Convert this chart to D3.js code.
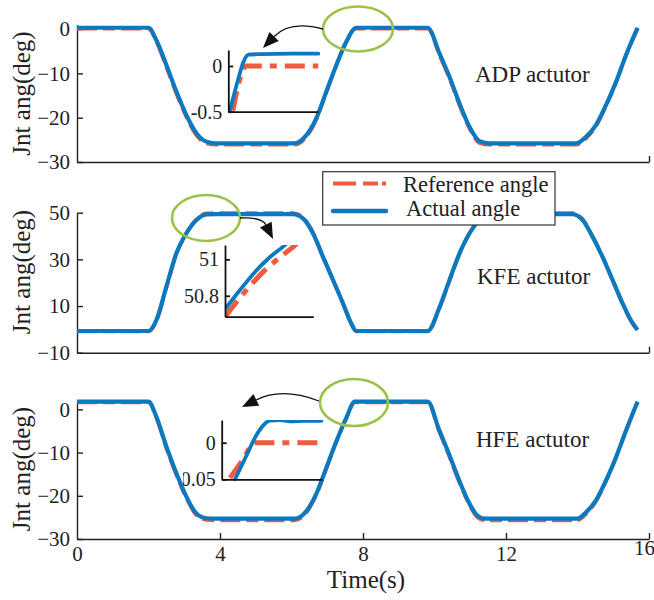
<!DOCTYPE html>
<html>
<head>
<meta charset="utf-8">
<script src="https://cdn.jsdelivr.net/npm/d3@7"></script>
<style>
  html, body { margin: 0; padding: 0; background: #fff; }
  svg { display: block; font-family: "Liberation Serif", "Times New Roman", serif; }
  text { fill: #222; }
</style>
</head>
<body>
<svg id="chart" width="654" height="600"></svg>
<script>
// ---------------- DATA ----------------
const xTicks = [0, 4, 8, 12, 16];
const ticksADP = [0, -10, -20, -30];
const ticksKFE = [50, 30, 10, -10];
const ticksHFE = [0, -10, -20, -30];
const panelNames = ["ADP actutor", "KFE actutor", "HFE actutor"];
const legendLabels = ["Reference angle", "Actual angle"];

// ADP actuator
const timeADP = [0, 2, 2.22, 2.5, 2.78, 3.06, 3.34, 3.62, 3.9, 6.09, 6.41, 6.69, 6.97, 7.25, 7.53, 7.81, 9.81, 10.14, 10.42, 10.7, 10.98, 11.26, 11.54, 13.96, 14.24, 14.52, 14.8, 15.08, 15.36, 15.68];
const actADP = [0.3, 0.3, -2.5, -8.1, -14.1, -19.4, -23.5, -25.4, -25.8, -25.8, -24.0, -20.2, -14.2, -8.2, -2.9, 0.3, 0.3, -5.5, -10.8, -16.8, -22.1, -25.3, -25.8, -25.8, -24.3, -21.6, -17.1, -11.9, -5.8, 0.3];
const refADP = [0.1, 0.1, -2.9, -8.6, -14.6, -19.9, -24.0, -25.8, -26.1, -26.1, -24.4, -20.5, -14.4, -8.3, -2.9, 0.1, 0.1, -5.9, -11.2, -17.2, -22.5, -25.7, -26.1, -26.1, -24.7, -21.9, -17.3, -12.0, -5.9, 0.1];

// KFE actuator
const timeKFE = [0, 2, 2.22, 2.5, 2.78, 3.06, 3.34, 3.62, 3.9, 6.04, 6.32, 6.6, 6.88, 7.16, 7.44, 7.67, 7.81, 9.81, 10.14, 10.42, 10.7, 10.98, 11.26, 11.54, 13.86, 14.14, 14.42, 14.7, 14.98, 15.26, 15.49, 15.68];
const actKFE = [-0.7, -0.7, 4.0, 18.3, 32.6, 41.2, 46.9, 49.3, 49.4, 49.4, 47.6, 41.2, 31.1, 21.2, 11.2, 2.6, -0.7, -0.7, 9.5, 21.2, 32.6, 41.2, 46.9, 49.3, 49.4, 46.9, 39.7, 31.1, 21.2, 11.2, 4.0, -0.3];
const refKFE = [-0.9, -0.9, 3.5, 17.8, 32.2, 41.2, 47.2, 49.7, 49.9, 49.9, 48.0, 41.6, 31.3, 21.2, 11.0, 2.2, -0.9, -0.9, 9.0, 20.8, 32.3, 41.2, 47.2, 49.7, 49.9, 47.3, 40.0, 31.3, 21.2, 11.0, 3.6, -0.6];

// HFE actuator
const timeHFE = [0, 2, 2.22, 2.5, 2.78, 3.06, 3.34, 3.62, 3.9, 6.09, 6.41, 6.69, 6.97, 7.25, 7.53, 7.77, 9.81, 10.12, 10.4, 10.68, 10.96, 11.2, 11.4, 14.0, 14.24, 14.52, 14.8, 15.08, 15.36, 15.68];
const actHFE = [1.8, 1.8, -1.7, -8.6, -14.8, -20.2, -24.1, -25.2, -25.3, -25.3, -23.6, -19.6, -13.6, -7.5, -2.0, 1.8, 1.8, -4.5, -10.2, -16.2, -21.5, -24.6, -25.3, -25.3, -23.8, -21.0, -16.4, -11.0, -4.8, 1.8];
const refHFE = [1.6, 1.6, -2.0, -9.0, -15.2, -20.6, -24.5, -25.6, -25.7, -25.7, -24.0, -19.9, -13.8, -7.6, -2.1, 1.6, 1.6, -4.9, -10.6, -16.6, -21.9, -25.0, -25.7, -25.7, -24.2, -21.3, -16.6, -11.1, -4.9, 1.6];

// Inset (zoom) data
const insetADPTicks = [0, -0.5];
const insetADPActT = [7.745, 7.76, 7.775, 7.79, 7.807, 7.85, 7.95, 8.04];
const insetADPActV = [-0.49, -0.3, -0.12, 0.04, 0.125, 0.13, 0.135, 0.135];
const insetADPRefT = [7.755, 7.8, 8.04];
const insetADPRefV = [-0.49, 0.0, 0.0];

const insetKFETicks = [51, 50.8];
const insetKFEActT = [3.3, 3.334, 3.368, 3.402, 3.436, 3.447];
const insetKFEActV = [50.726, 50.832, 50.931, 51.013, 51.079, 51.106];
const insetKFERefT = [3.3, 3.345, 3.391, 3.425, 3.459, 3.47];
const insetKFERefV = [50.685, 50.821, 50.942, 51.013, 51.079, 51.106];

const insetHFETicks = [0, -0.05];
const insetHFEActT = [7.64, 7.672, 7.704, 7.723, 7.744, 7.775, 7.804, 7.848, 7.898];
const insetHFEActV = [-0.05, -0.0195, 0.0105, 0.023, 0.030, 0.031, 0.029, 0.030, 0.030];
const insetHFERefT = [7.625, 7.661, 7.699, 7.893];
const insetHFERefV = [-0.048, -0.025, 0.0, 0.0];

// ---------------- STYLE / LAYOUT ----------------
const BLUE = "#0b78bf";
const RED = "#ef5b3e";
const GREEN = "#9cc24a";
const INK = "#222";

const svg = d3.select("#chart");
const x = d3.scaleLinear().domain([0, 16]).range([77, 649]);

const panels = [
  { t: timeADP, act: actADP, ref: refADP, ticks: ticksADP, domain: [-30, 1], range: [162, 162 - 31 * 4.43], labelY: 93.5, name: panelNames[0], nameX: 475, nameY: 82 },
  { t: timeKFE, act: actKFE, ref: refKFE, ticks: ticksKFE, domain: [-10, 50], range: [352.7, 212.7], labelY: 272, name: panelNames[1], nameX: 477, nameY: 284 },
  { t: timeHFE, act: actHFE, ref: refHFE, ticks: ticksHFE, domain: [-30, 2], range: [539, 539 - 32 * 4.32], labelY: 469, name: panelNames[2], nameX: 476, nameY: 447 }
];

panels.forEach((p, i) => {
  const y = d3.scaleLinear().domain(p.domain).range(p.range);
  const g = svg.append("g");

  // y axis
  const ya = g.append("g").attr("transform", `translate(${x(0)},0)`)
    .call(d3.axisLeft(y).tickValues(p.ticks).tickSizeInner(-6).tickSizeOuter(0).tickPadding(7).tickFormat(d3.format("d")));
  ya.selectAll("path,line").attr("stroke", INK).attr("stroke-width", 1.4);
  ya.selectAll("text").attr("font-size", 21).attr("font-family", "Liberation Serif, serif").attr("fill", INK);

  // x axis
  const last = i === 2;
  const xa = g.append("g").attr("transform", `translate(0,${p.range[0]})`)
    .call(d3.axisBottom(x).tickValues(last ? xTicks : [16]).tickSizeInner(-6).tickSizeOuter(0).tickPadding(7)
      .tickFormat(last ? d3.format("d") : () => ""));
  xa.selectAll("path,line").attr("stroke", INK).attr("stroke-width", 1.4);
  xa.selectAll("text").attr("font-size", 21).attr("font-family", "Liberation Serif, serif").attr("fill", INK);
  if (last) {
    xa.selectAll(".tick").filter(d => d === 0).select("line").remove();
    xa.selectAll(".tick").filter(d => d === 16).select("text").attr("x", -5).attr("y", 1);
  }

  // lines
  const pts = (tt, vv) => tt.map((d, k) => [d, vv[k]]);
  const line = d3.line().x(d => x(d[0])).y(d => y(d[1])).curve(d3.curveMonotoneX);
  g.append("path").attr("d", line(pts(p.t, p.ref))).attr("fill", "none")
    .attr("stroke", RED).attr("stroke-width", 3.6).attr("stroke-dasharray", "20,6,12,6");
  g.append("path").attr("d", line(pts(p.t, p.act))).attr("fill", "none")
    .attr("stroke", BLUE).attr("stroke-width", 4.2).attr("stroke-linejoin", "round");

  // y label
  svg.append("text").attr("transform", `translate(30,${p.labelY}) rotate(-90)`)
    .attr("text-anchor", "middle").attr("font-size", 25).text("Jnt ang(deg)");

  // panel name
  svg.append("text").attr("x", p.nameX).attr("y", p.nameY).attr("font-size", 23).text(p.name);
});

// x label
svg.append("text").attr("x", 366).attr("y", 588).attr("text-anchor", "middle").attr("font-size", 25).text("Time(s)");

// ---------------- INSETS ----------------
const insets = [
  { id: "i1", x0: 228.3, x1: 318.3, yTop: 50, yBot: 111.7, tDom: [7.74, 8.04], vDom: [-0.5, 0.1749], ticks: insetADPTicks, fmt: d => d === 0 ? "0" : "-0.5",
    act: [insetADPActT, insetADPActV], ref: [insetADPRefT, insetADPRefV], curve: d3.curveMonotoneX, clipX: 0 },
  { id: "i2", x0: 225, x1: 313.3, yTop: 245, yBot: 316.7, tDom: [3.3, 3.5], vDom: [50.685, 51.079], ticks: insetKFETicks, fmt: d => d === 51 ? "51" : "50.8",
    act: [insetKFEActT, insetKFEActV], ref: [insetKFERefT, insetKFERefV], curve: d3.curveMonotoneX, clipX: 0 },
  { id: "i3", x0: 221.7, x1: 322, yTop: 420, yBot: 479.3, tDom: [7.6, 7.9], vDom: [-0.05, 0.031], ticks: insetHFETicks, fmt: d => d === 0 ? "0" : "-0.05",
    act: [insetHFEActT, insetHFEActV], ref: [insetHFERefT, insetHFERefV], curve: d3.curveMonotoneX, clipX: 183 }
];

const defs = svg.append("defs");
insets.forEach(ins => {
  const xs = d3.scaleLinear().domain(ins.tDom).range([ins.x0, ins.x1]);
  const ys = d3.scaleLinear().domain(ins.vDom).range([ins.yBot, ins.yTop]);
  defs.append("clipPath").attr("id", "clip-" + ins.id).append("rect")
    .attr("x", ins.x0).attr("y", ins.yTop).attr("width", ins.x1 - ins.x0 + 4).attr("height", ins.yBot - ins.yTop + 2);
  const g = svg.append("g");
  const line = d3.line().x(d => xs(d[0])).y(d => ys(d[1])).curve(ins.curve);
  const pts = (a) => a[0].map((d, k) => [d, a[1][k]]);
  const lg = g.append("g").attr("clip-path", `url(#clip-${ins.id})`);
  lg.append("path").attr("d", line(pts(ins.ref))).attr("fill", "none")
    .attr("stroke", RED).attr("stroke-width", 5).attr("stroke-dasharray", "20,8,7,8");
  lg.append("path").attr("d", line(pts(ins.act))).attr("fill", "none")
    .attr("stroke", BLUE).attr("stroke-width", 3.8).attr("stroke-linejoin", "round").attr("stroke-linecap", "round");

  const ax = g.append("g").attr("transform", `translate(${ins.x0},0)`)
    .call(d3.axisLeft(ys).tickValues(ins.ticks).tickSizeInner(-5).tickSizeOuter(0).tickPadding(6).tickFormat(ins.fmt));
  ax.selectAll("path,line").attr("stroke", "#111").attr("stroke-width", 1.8);
  ax.selectAll("text").attr("font-size", 20).attr("font-family", "Liberation Serif, serif").attr("fill", INK);
  if (ins.clipX) {
    defs.append("clipPath").attr("id", "lab-" + ins.id).append("rect")
      .attr("x", ins.clipX - ins.x0).attr("y", 0).attr("width", 200).attr("height", 600);
    ax.attr("clip-path", `url(#lab-${ins.id})`);
  }
  g.append("g").attr("transform", `translate(0,${ins.yBot})`)
    .call(d3.axisBottom(xs).tickValues([]).tickSizeOuter(0))
    .selectAll("path").attr("stroke", "#111").attr("stroke-width", 1.8);
});

// ---------------- ELLIPSES & ARROWS ----------------
const ellipses = [[358, 29, 35, 22.5], [206, 218, 34, 23], [354, 402.5, 34, 23.5]];
ellipses.forEach(e => {
  svg.append("ellipse").attr("cx", e[0]).attr("cy", e[1]).attr("rx", e[2]).attr("ry", e[3])
    .attr("fill", "none").attr("stroke", GREEN).attr("stroke-width", 2.6);
});

function arrow(p0, c, tip, len, w) {
  const dx = tip[0] - c[0], dy = tip[1] - c[1];
  const L = Math.hypot(dx, dy), ux = dx / L, uy = dy / L;
  const base = [tip[0] - ux * len, tip[1] - uy * len];
  const pth = d3.path();
  pth.moveTo(p0[0], p0[1]);
  pth.quadraticCurveTo(c[0], c[1], base[0], base[1]);
  svg.append("path").attr("d", pth.toString()).attr("fill", "none").attr("stroke", "#111").attr("stroke-width", 1.3);
  const px = -uy, py = ux;
  const tri = d3.path();
  tri.moveTo(tip[0], tip[1]);
  tri.lineTo(base[0] + px * w / 2, base[1] + py * w / 2);
  tri.lineTo(base[0] - px * w / 2, base[1] - py * w / 2);
  tri.closePath();
  svg.append("path").attr("d", tri.toString()).attr("fill", "#111");
}
arrow([323, 29], [290, 20], [263, 48], 16, 13);
arrow([240, 218], [262, 217], [273, 239], 16, 13);
arrow([319, 401], [282, 387], [242, 407], 16, 13);

// ---------------- LEGEND ----------------
const leg = svg.append("g");
leg.append("rect").attr("x", 322.7).attr("y", 171.7).attr("width", 232.3).attr("height", 53.3)
  .attr("fill", "#fff").attr("stroke", "#333").attr("stroke-width", 1.2);
leg.append("line").attr("x1", 333).attr("x2", 386).attr("y1", 183.5).attr("y2", 183.5)
  .attr("stroke", RED).attr("stroke-width", 4).attr("stroke-dasharray", "23,7,15,4,4");
leg.append("line").attr("x1", 333).attr("x2", 386).attr("y1", 211).attr("y2", 211)
  .attr("stroke", BLUE).attr("stroke-width", 4.5).attr("stroke-linecap", "round");
leg.append("text").attr("x", 403).attr("y", 192).attr("font-size", 22.5).text(legendLabels[0]);
leg.append("text").attr("x", 406).attr("y", 216).attr("font-size", 22.5).text(legendLabels[1]);
</script>
</body>
</html>
